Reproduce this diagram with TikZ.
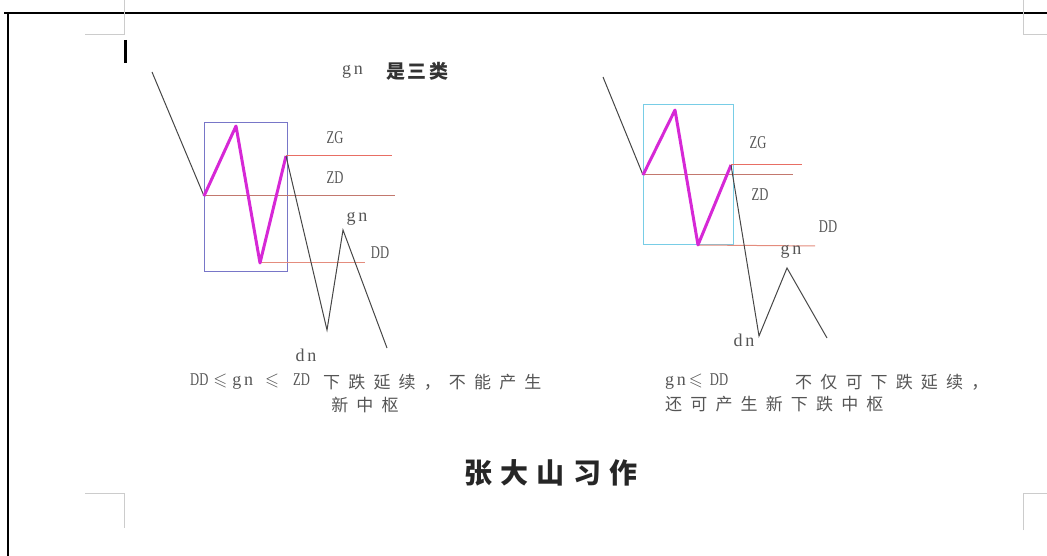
\documentclass[tikz,border=0pt]{standalone}
\usepackage{amssymb}
\usepackage{fontspec}
\setmainfont{Liberation Serif}
\newfontfamily\latn[FakeStretch=0.7]{Liberation Serif}
\newfontfamily\latnlow[LetterSpace=15]{Liberation Serif}
\newfontfamily\cjk[LetterSpace=48]{Noto Sans CJK SC}
\newfontfamily\cjkhead[LetterSpace=14]{Noto Sans CJK SC}
\newfontfamily\cjktitle[LetterSpace=30]{Noto Sans CJK SC}
\usepackage{tikz}
\usetikzlibrary{positioning}
\definecolor{penline}{RGB}{70,70,70}
\definecolor{hubmag}{RGB}{214,40,214}
\definecolor{boxA}{RGB}{120,118,200}
\definecolor{boxB}{RGB}{120,205,230}
\definecolor{zgred}{RGB}{232,110,100}
\definecolor{zdbrown}{RGB}{195,120,110}
\definecolor{ddred}{RGB}{228,140,125}
\definecolor{txtgray}{RGB}{85,85,85}

\begin{document}
\begin{tikzpicture}[
    x=1pt, y=-1pt,
    wave/.style={draw=penline, line width=1pt},
    hub/.style={draw=hubmag, line width=3pt, line join=round},
    zgline/.style={draw=zgred, line width=1pt},
    zdline/.style={draw=zdbrown, line width=1pt},
    ddline/.style={draw=ddred, line width=1pt},
    zsbox/.style={draw, line width=1pt, inner sep=0pt},
    lbl/.style={text=txtgray, font=\latn\fontsize{18}{18}\selectfont, inner sep=0pt},
    lbllow/.style={text=txtgray, font=\latnlow\fontsize{18}{18}\selectfont, inner sep=0pt},
    note/.style={text=txtgray, font=\cjk\fontsize{17}{20}\selectfont, inner sep=0pt},
    crop/.style={draw=gray!40, line width=1pt}
]
\useasboundingbox (0,0) rectangle (1047,556);

% page frame and crop marks
\draw[line width=2.5pt] (4,13) -- (1047,13);
\draw[line width=2.5pt] (8,13) -- (8,556);
\draw[crop] (85,35) -- (124,35) -- (124,0);
\draw[crop] (1023,0) -- (1023,35) -- (1047,35);
\draw[crop] (85,493) -- (124,493) -- (124,528);
\draw[crop] (1023,530) -- (1023,493) -- (1047,493);
\draw[line width=3pt] (125,40) -- (125,63);

% heading
\node[lbllow, anchor=west] (gnhead) at (342,72) {gn};
\node[font=\cjkhead\bfseries\fontsize{19}{19}\selectfont, text=black!80, inner sep=0pt, anchor=west] (sanmai) at (386,71) {是三类};

% left case
\node[zsbox, draw=boxA, minimum width=83pt, minimum height=148pt] (zsA) at (245.5,197) {};
\coordinate (a0) at (152,72);
\coordinate (a1) at (204,196);
\coordinate (a2) at (236,126);
\coordinate (a3) at (260,263);
\coordinate (a4) at (286,156);
\coordinate (a5) at (327,330);
\coordinate (a6) at (343,230);
\coordinate (a7) at (387,348);
\coordinate (zgA) at (392,156);
\coordinate (zdA) at (395,196);
\coordinate (ddA) at (365,263);
\draw[zgline] (a4) -- (zgA);
\draw[zdline] (a1) -- (zdA);
\draw[ddline] (a3) -- (ddA);
\draw[wave] (a0) -- (a1);
\draw[hub] (a1) -- (a2) -- (a3) -- (a4);
\draw[wave] (a4) -- (a5) -- (a6) -- (a7);
\node[lbl] (zgA lbl) at (335,138) {ZG};
\node[lbl] (zdA lbl) at (335,178) {ZD};
\node[lbllow] (gnA lbl) at (357,219) {gn};
\node[lbl] (ddA lbl) at (380,253) {DD};
\node[lbllow] (dnA lbl) at (306,355) {dn};
\node[lbl, anchor=west] (condA) at (190,382) {DD\hspace{5pt}$\leqslant$\hspace{5pt}{\latnlow gn}\hspace{12pt}$\leqslant$\hspace{14pt}ZD};
\node[note, anchor=west] (noteA) at (323,382) {下跌延续，不能产生};
\node[note] (noteA2) at (365,405) {新中枢};

% right case
\node[zsbox, draw=boxB, minimum width=90pt, minimum height=140pt] (zsB) at (688,175) {};
\coordinate (b0) at (603,77);
\coordinate (b1) at (643,175);
\coordinate (b2) at (675,110);
\coordinate (b3) at (698,245);
\coordinate (b4) at (731,165);
\coordinate (b5) at (759,336);
\coordinate (b6) at (787,268);
\coordinate (b7) at (827,338);
\coordinate (zgB) at (802,165);
\coordinate (zdB) at (793,175);
\coordinate (ddB) at (815,246);
\draw[zgline] (b4) -- (zgB);
\draw[zdline] (b1) -- (zdB);
\draw[ddline] (b3) -- (ddB);
\draw[wave] (b0) -- (b1);
\draw[hub] (b1) -- (b2) -- (b3) -- (b4);
\draw[wave] (b4) -- (b5) -- (b6) -- (b7);
\node[lbl] (zgB lbl) at (758,143) {ZG};
\node[lbl] (zdB lbl) at (760,195) {ZD};
\node[lbl] (ddB lbl) at (828,227) {DD};
\node[lbllow] (gnB lbl) at (791,252) {gn};
\node[lbllow] (dnB lbl) at (744,340) {dn};
\node[lbl, anchor=west] (condB) at (665,382) {{\latnlow gn}\hspace{3pt}$\leqslant$\hspace{7pt}DD};
\node[note, anchor=west] (noteB) at (795,382) {不仅可下跌延续，};
\node[note, anchor=west] (noteB2) at (665,404) {还可产生新下跌中枢};

% signature
\node[font=\cjktitle\bfseries\fontsize{28}{28}\selectfont, text=black!85, inner sep=0pt] (sign) at (551,473) {张大山习作};
\end{tikzpicture}
\end{document}
